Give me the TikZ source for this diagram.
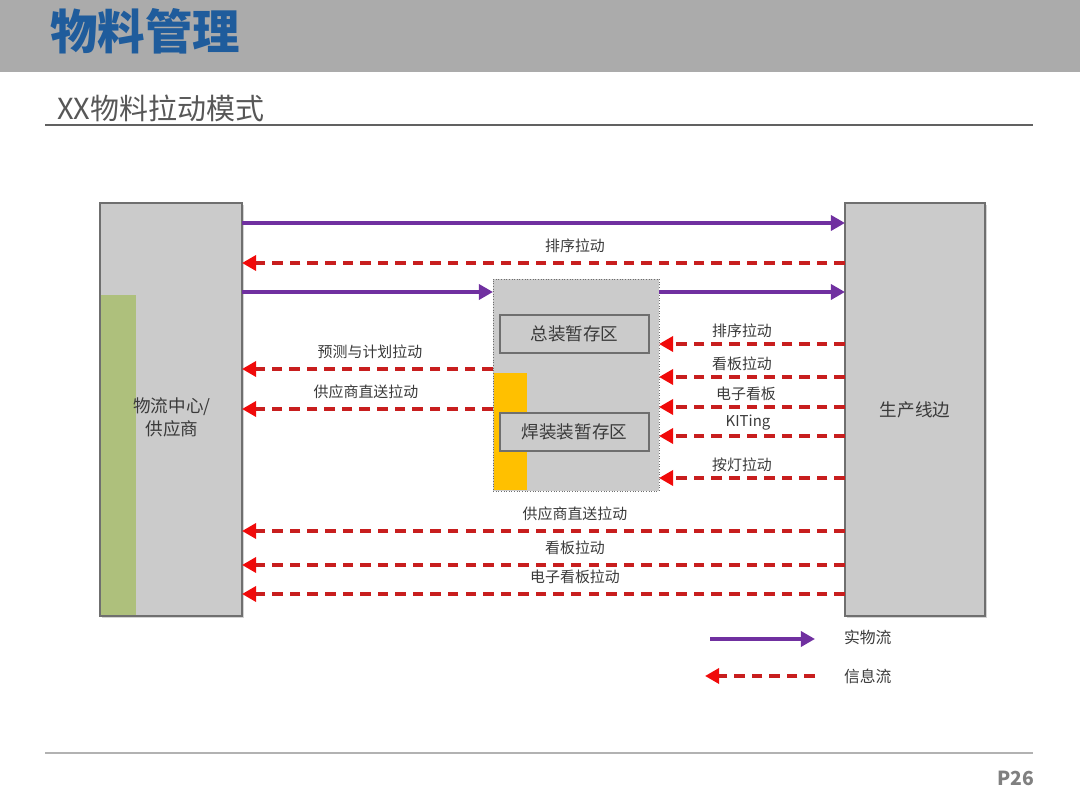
\documentclass[tikz,border=0pt]{standalone}
\usepackage{fontspec}
\setmainfont{Noto Sans CJK SC}
\usepackage{xcolor}
\usetikzlibrary{arrows.meta, positioning, shadows}
\definecolor{hdrgray}{HTML}{ABABAB}
\definecolor{ttlblue}{HTML}{1F5C9C}
\definecolor{boxgray}{HTML}{CBCBCB}
\definecolor{edgegray}{HTML}{6F6F6F}
\definecolor{stripgreen}{HTML}{AEC07C}
\definecolor{striporange}{HTML}{FFC000}
\definecolor{flowpurple}{HTML}{7030A0}
\definecolor{infored}{HTML}{C81E1E}
\definecolor{tipred}{HTML}{F00A0A}
\definecolor{txtgray}{HTML}{3A3A3A}

\begin{document}
\begin{tikzpicture}[x=0.02cm,y=-0.02cm]
\tikzset{bigbox/.style={draw=edgegray,line width=0.8pt,fill=boxgray,inner sep=0pt,outer sep=0pt,minimum height=8.26cm,
                        drop shadow={shadow xshift=1.2pt,shadow yshift=-1.2pt,opacity=0.35}},
         zonebox/.style={draw=edgegray,line width=0.6pt,fill=boxgray,inner sep=0pt,minimum width=2.98cm,minimum height=0.76cm,
                         font=\fontsize{10}{12}\selectfont,text=txtgray},
         lbl/.style={font=\fontsize{8.5}{10}\selectfont,text=txtgray,inner sep=1pt},
         matflow/.style={line width=2.1pt,color=flowpurple,-{Triangle[length=8pt,width=8.5pt]}},
         infoflow/.style={line width=2.3pt,color=infored,dash pattern=on 6pt off 4pt,
                          -{Triangle[length=8pt,width=8.5pt,color=tipred,fill=tipred]}}}
\useasboundingbox (0,0) rectangle (1080,810);
% Header
\fill[hdrgray] (0,0) rectangle (1080,72);
\node[anchor=west,font=\fontsize{27}{30}\selectfont\bfseries,text=ttlblue,inner sep=0pt] (title) at (50,31) {物料管理};
\node[anchor=west,font=\fontsize{16.5}{18}\selectfont,text=txtgray!85,inner sep=0pt] (subtitle) at (57,108) {XX物料拉动模式};
\draw[line width=1.1pt,color=txtgray!80] (45,125) -- (1033,125);
% Footer
\draw[line width=0.8pt,color=gray!60] (45,753) -- (1033,753);
\node[font=\fontsize{11}{12}\selectfont\bfseries,text=gray,inner sep=0pt] (page) at (1016,778) {P26};
% Main boxes
\node[bigbox,minimum width=2.84cm] (lc) at (171,409.5) {};
\fill[stripgreen] (101,295) rectangle (136,615);
\node[font=\fontsize{10}{13}\selectfont,text=txtgray,align=center] (lctext) at (172,417) {物流中心/\\供应商};
\node[bigbox,minimum width=2.80cm,font=\fontsize{10}{12}\selectfont,text=txtgray] (rc) at (915,409.5) {生产线边};
% Buffer zone
\node[draw=edgegray,densely dotted,line width=0.5pt,fill=boxgray,inner sep=0pt,outer sep=0pt,
      minimum width=3.32cm,minimum height=4.24cm] (mid) at (576,385) {};
\fill[striporange] (494,373) rectangle (527,490);
\node[zonebox] (zoneA) at (574.5,334) {总装暂存区};
\node[zonebox] (zoneB) at (574.5,432) {焊装装暂存区};
% Physical flow
\draw[matflow] (lc.east |- 0,223) -- (rc.west |- 0,223);
\draw[matflow] (lc.east |- 0,292) -- (mid.west |- 0,292);
\draw[matflow] (mid.east |- 0,292) -- (rc.west |- 0,292);
% Pull signals: line side to supplier
\foreach \yy/\txt [count=\i] in {263/排序拉动, 531/供应商直送拉动, 565/看板拉动, 594/电子看板拉动}{
  \node[lbl] (wlab\i) at (575,\yy-17) {\txt};
  \draw[infoflow] (rc.west |- 0,\yy) -- (lc.east |- 0,\yy);
}
% Pull signals: buffer to supplier
\foreach \yy/\xx/\txt [count=\i] in {369/370/预测与计划拉动, 409/366/供应商直送拉动}{
  \node[lbl] (llab\i) at (\xx,\yy-17) {\txt};
  \draw[infoflow] (mid.west |- 0,\yy) -- (lc.east |- 0,\yy);
}
% Pull signals: line side to buffer
\foreach \yy/\xx/\txt [count=\i] in {344/742/排序拉动, 377/742/看板拉动, 407/746/电子看板, 436/748/KITing, 478/742/按灯拉动}{
  \node[lbl] (rlab\i) at (\xx,\yy-13) {\txt};
  \draw[infoflow] (rc.west |- 0,\yy) -- (mid.east |- 0,\yy);
}
% Legend
\coordinate (lgA) at (710,639);
\coordinate (lgB) at (815,639);
\coordinate (lgC) at (815,676);
\coordinate (lgD) at (705,676);
\draw[matflow] (lgA) -- (lgB);
\draw[infoflow] (lgC) -- (lgD);
\node[lbl,anchor=west,font=\fontsize{9}{10}\selectfont] (lgmat) at (842,637) {实物流};
\node[lbl,anchor=west,font=\fontsize{9}{10}\selectfont] (lginfo) at (842,676) {信息流};
\end{tikzpicture}
\end{document}
